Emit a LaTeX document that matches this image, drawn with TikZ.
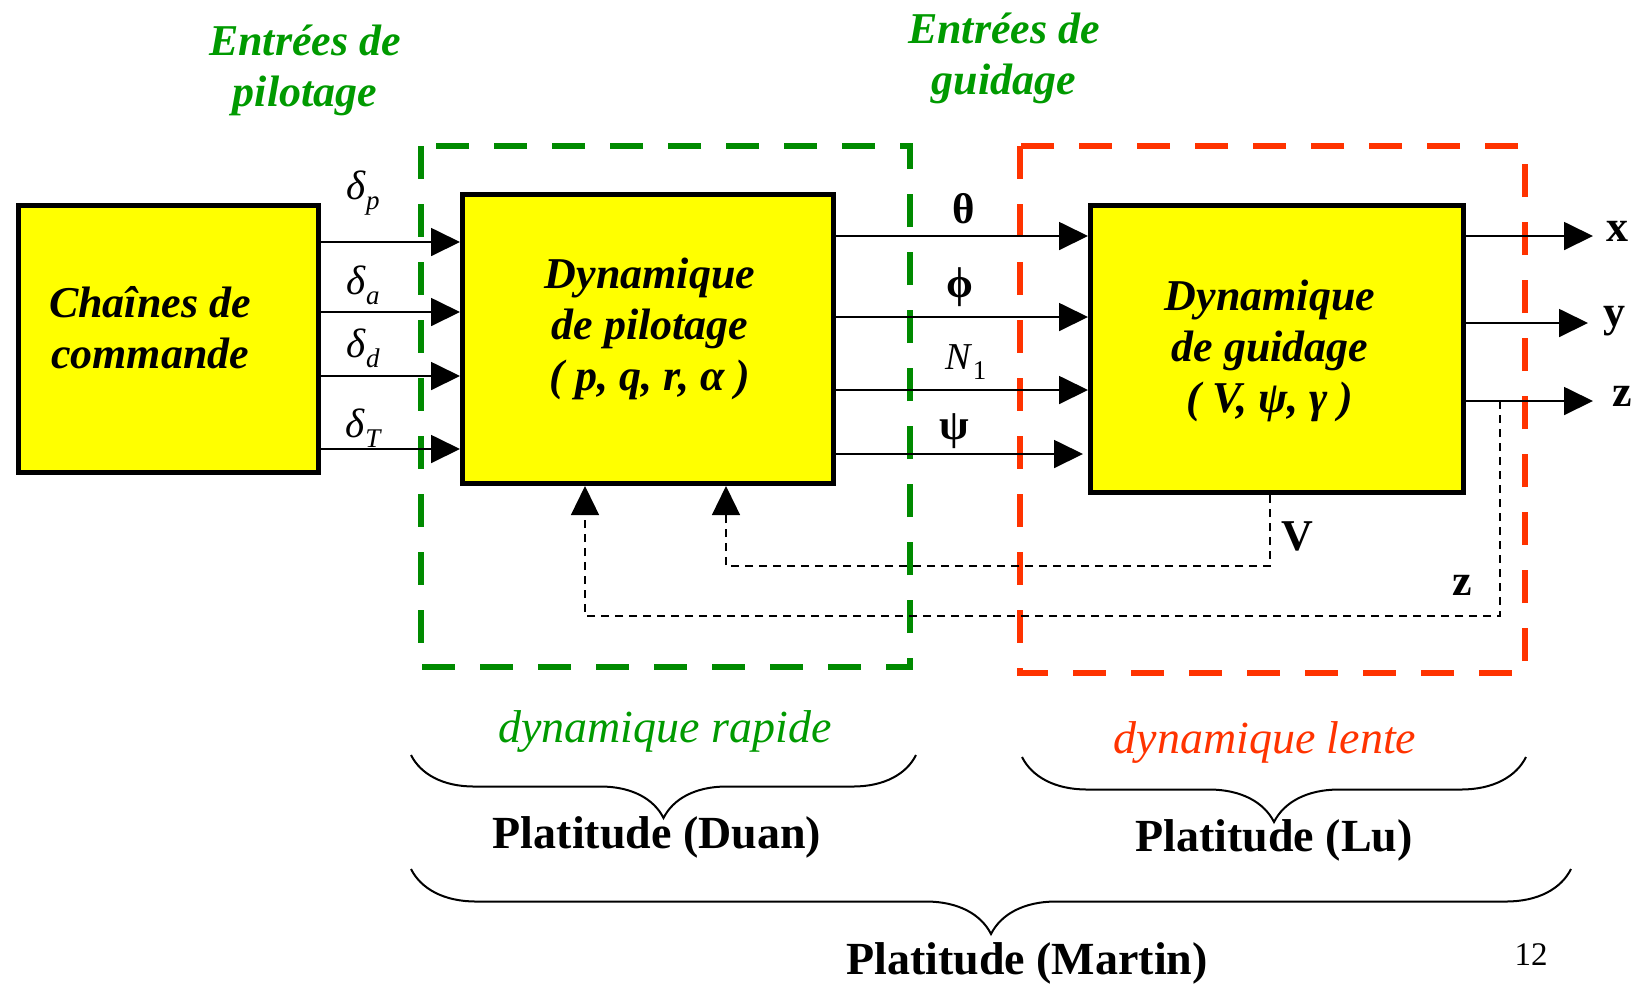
\documentclass[tikz,border=0pt]{standalone}
\usepackage{fontspec}
\setmainfont{Liberation Serif}
\usetikzlibrary{arrows.meta,positioning,calc,decorations.pathreplacing}
\definecolor{byellow}{HTML}{FFFF00}
\definecolor{fgreen}{HTML}{008A00}
\definecolor{tgreen}{HTML}{009A00}
\definecolor{fred}{HTML}{FF3300}
\newcommand{\sigsub}[2]{\textit{#1}\raisebox{-0.55ex}{\fontsize{13.5}{14}\selectfont #2}}
\tikzset{
  % yellow block with a heavy black border
  blk/.style   = {rectangle, draw=black, fill=byellow, line width=2.5pt, inner sep=0pt},
  btxt/.style  = {align=center, inner sep=0pt, font=\fontsize{22}{25.5}\selectfont\bfseries\itshape},
  frame/.style = {draw=#1, line width=3pt, dash pattern=on 16.5pt off 12.5pt},
  sig/.style   = {-{Triangle[length=14.5pt,width=14pt]}, line width=0.9pt},
  fb/.style    = {-{Triangle[length=14.5pt,width=14pt]}, line width=0.7pt,
                  dash pattern=on 4pt off 3pt},
  sym/.style   = {font=\fontsize{20.5}{22}\selectfont, inner sep=0pt},
  var/.style   = {font=\fontsize{21.5}{23}\selectfont\bfseries, inner sep=0pt},
  olbl/.style  = {font=\fontsize{22}{24}\selectfont\bfseries, inner sep=0pt},
  head/.style  = {font=\fontsize{22}{25.5}\selectfont\bfseries\itshape, text=tgreen, align=center},
  brc/.style   = {decorate, decoration={brace, mirror, amplitude=#1}, line width=1pt},
  plat/.style  = {font=\fontsize{23}{26}\selectfont\bfseries},
  dyn/.style   = {font=\fontsize{23}{26}\selectfont\itshape},
  num/.style   = {font=\fontsize{16.5}{18}\selectfont},
}
\begin{document}
\begin{tikzpicture}[x=0.5pt, y=-0.5pt]
\useasboundingbox (0,0) rectangle (1649,987);

% fast and slow dynamics regions
\draw[frame=fgreen] (421,146) rectangle (910,667);
\draw[frame=fred]   (1020,146) rectangle (1525,673);

\node[head] (hpil) at (305,70) {Entrées de\\pilotage};
\node[head] (hgui) at (1004,58) {Entrées de\\guidage};

\node[blk, minimum width=150pt,   minimum height=133.5pt] (cmd) at (168.5,339) {};
\node[blk, minimum width=185.5pt, minimum height=144.5pt] (pil) at (648,339)   {};
\node[blk, minimum width=186.5pt, minimum height=143.5pt] (gui) at (1277,349)  {};
\node[btxt] (cmdt) at (150,328)  {Chaînes de\\commande};
\node[btxt] (pilt) at (650,329)  {Dynamique\\de pilotage\\( p, q, r, α )};
\node[btxt] (guit) at (1270,351) {Dynamique\\de guidage\\( V, ψ, γ )};

% control inputs
\foreach \y/\ly/\s in {242/193/p, 312/285/a, 376/348/d, 449/428/T} {
  \coordinate (in\s) at (0,\y);
  \draw[sig] (cmd.east |- in\s) -- (pil.west |- in\s);
  \node[sym] at (363,\ly) {\sigsub{δ}{\itshape\s}};
}

% guidance inputs
\coordinate (gth) at (0,236);
\coordinate (gph) at (0,317);
\coordinate (gn)  at (0,390);
\coordinate (gps) at (0,454);
\draw[sig] (pil.east |- gth) -- (gui.west |- gth);
\draw[sig] (pil.east |- gph) -- (gui.west |- gph);
\draw[sig] (pil.east |- gn)  -- (gui.west |- gn);
\draw[sig, shorten >=2.5pt] (pil.east |- gps) -- (gui.west |- gps);
\node[var] (lth) at (964,209) {θ};
\node[var] (lph) at (960,287) {ϕ};
\node[sym, font=\fontsize{19}{21}\selectfont] (ln) at (966,362) {\sigsub{N}{1}};
\node[var] (lps) at (954,431) {ψ};

% outputs
\coordinate (xend) at (1593,236);
\coordinate (yend) at (1588,323);
\coordinate (zend) at (1593,401);
\draw[sig] (gui.east |- xend) -- (xend);
\draw[sig] (gui.east |- yend) -- (yend);
\draw[sig] (gui.east |- zend) -- (zend);
\node[olbl] (lx) at (1617,231) {x};
\node[olbl] (ly) at (1614,321) {y};
\node[olbl] (lz) at (1622,396) {z};

% feedback of V and z
\coordinate (vbend) at (1270,566);
\coordinate (vturn) at (726,566);
\draw[fb] (gui.south -| vbend) -- (vbend) -- (vturn) -- (pil.south -| vturn);
\coordinate (zbend) at (1500,616);
\coordinate (zturn) at (585,616);
\draw[fb] (zend -| zbend) -- (zbend) -- (zturn) -- (pil.south -| zturn);
\node[olbl] (lv)  at (1297,536) {V};
\node[olbl] (lzf) at (1462,585) {z};

% flatness braces
\node[dyn, text=tgreen] (drap) at (665,731) {dynamique rapide};
\draw[brc=31.5pt] (411,755) -- (916,755);
\node[plat] (pduan) at (657,837) {Platitude (Duan)};
\node[dyn, text=fred] (dlen) at (1265,742) {dynamique lente};
\draw[brc=32.5pt] (1022,757) -- (1526,757);
\node[plat] (plu) at (1274,840) {Platitude (Lu)};
\draw[brc=32.5pt] (411,869) -- (1571,869);
\node[plat] (pmar) at (1027,963) {Platitude (Martin)};
\node[num] (page) at (1531,955) {12};
\end{tikzpicture}
\end{document}
